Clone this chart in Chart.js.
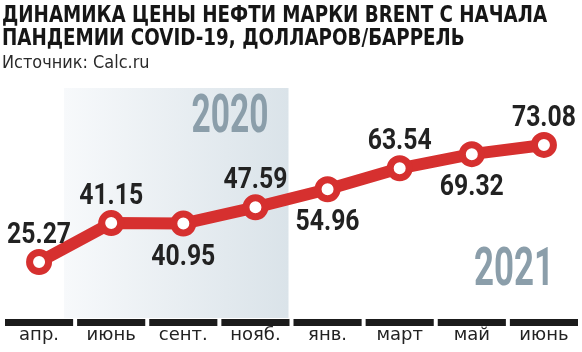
<!DOCTYPE html>
<html>
<head>
    <meta charset="utf-8">
    <title>Brent</title>
    <script src="https://cdn.jsdelivr.net/npm/chart.js@4.4.1/dist/chart.umd.min.js"></script>
    <style>
        body {
            margin: 0;
            background: #fff;
            overflow: hidden;
        }
        #wrap {
            position: relative;
            width: 582px;
            height: 352px;
        }
        #chart {
            position: absolute;
            left: 0;
            top: 0;
        }
        .title {
            position: absolute;
            left: 2px;
            font-family: "DejaVu Sans", sans-serif;
            font-weight: bold;
            font-size: 23px;
            line-height: 23px;
            color: #161616;
            white-space: nowrap;
            transform-origin: 0 0;
        }
        .source {
            position: absolute;
            left: 2px;
            font-family: "DejaVu Sans", sans-serif;
            font-size: 17px;
            line-height: 17px;
            color: #2a2a2a;
            white-space: nowrap;
            transform-origin: 0 0;
        }
    </style>
</head>
<body>
<div id="wrap">
    <canvas id="chart" width="582" height="352"></canvas>
    <div class="title" id="t1" style="top:3px" data-w="545">ДИНАМИКА ЦЕНЫ НЕФТИ МАРКИ BRENT С НАЧАЛА</div>
    <div class="title" id="t2" style="top:25.5px" data-w="463">ПАНДЕМИИ COVID-19, ДОЛЛАРОВ/БАРРЕЛЬ</div>
    <div class="source" id="src" style="top:53.5px" data-w="148">Источник: Calc.ru</div>
</div>

<script>
    // data
    const months = ['апр.', 'июнь', 'сент.', 'нояб.', 'янв.', 'март', 'май', 'июнь'];
    const prices = [25.27, 41.15, 40.95, 47.59, 54.96, 63.54, 69.32, 73.08];
    const labelSide = [-1, -1, 1, -1, 1, -1, 1, -1]; // -1 above, 1 below
    const years = ['2020', '2021'];

    const RED = '#d6302f';
    const YEAR_COLOR = '#8b9eaa';

    // squeeze html text to the width of the original
    document.querySelectorAll('[data-w]').forEach(el => {
        const w = parseFloat(el.dataset.w);
        el.style.transform = 'scaleX(' + (w / el.scrollWidth) + ')';
    });

    function squished(ctx, text, x, y, w, align) {
        const s = w / ctx.measureText(text).width;
        ctx.save();
        ctx.translate(x, y);
        ctx.scale(s, 1);
        ctx.textAlign = align;
        ctx.fillText(text, 0, 0);
        ctx.restore();
    }

    const decor = {
        id: 'decor',
        beforeDatasetsDraw(chart) {
            const ctx = chart.ctx;
            const area = chart.chartArea;
            const x = chart.scales.x;
            const p0 = x.getPixelForValue(0);
            const p1 = x.getPixelForValue(1);
            const step = p1 - p0;

            // 2020 band
            const left = p0 + 25;
            const right = (x.getPixelForValue(3) + x.getPixelForValue(4)) / 2 - 3;
            const g = ctx.createLinearGradient(left, 0, right, 0);
            g.addColorStop(0, '#f7f9fb');
            g.addColorStop(1, '#dae3e9');
            ctx.save();
            ctx.fillStyle = g;
            ctx.fillRect(left, 88, right - left, area.bottom + 1 - 88);

            // year captions
            ctx.fillStyle = YEAR_COLOR;
            ctx.font = 'bold 53px Roboto, "DejaVu Sans", sans-serif';
            ctx.textBaseline = 'alphabetic';
            squished(ctx, years[0], right - 20, 132, 77, 'right');
            squished(ctx, years[1], x.getPixelForValue(7) + 10, 285, 80, 'right');

            // black bars over the month labels
            ctx.fillStyle = '#1b1b1b';
            months.forEach((m, i) => {
                const c = x.getPixelForValue(i);
                ctx.fillRect(c - step / 2 + 2, area.bottom + 2, step - 4, 7);
            });
            ctx.restore();
        },
        afterDatasetsDraw(chart) {
            const ctx = chart.ctx;
            const meta = chart.getDatasetMeta(0);
            ctx.save();
            ctx.fillStyle = '#222';
            ctx.font = 'bold 30px Roboto, "DejaVu Sans", sans-serif';
            ctx.textBaseline = 'alphabetic';
            const s = 64 / ctx.measureText('40.95').width;
            meta.data.forEach((pt, i) => {
                const txt = prices[i].toFixed(2);
                const y = labelSide[i] < 0 ? pt.y - 19 : pt.y + 41;
                ctx.save();
                ctx.translate(pt.x, y);
                ctx.scale(s, 1);
                ctx.textAlign = 'center';
                ctx.fillText(txt, 0, 0);
                ctx.restore();
            });
            ctx.restore();
        }
    };

    new Chart(document.getElementById('chart'), {
        type: 'line',
        data: {
            labels: months,
            datasets: [{
                data: prices,
                borderColor: RED,
                borderWidth: 12,
                borderJoinStyle: 'round',
                borderCapStyle: 'round',
                tension: 0,
                pointRadius: 9.5,
                pointHoverRadius: 9.5,
                pointBorderWidth: 7,
                pointBackgroundColor: '#ffffff',
                pointBorderColor: RED
            }]
        },
        options: {
            responsive: false,
            animation: false,
            events: [],
            layout: {
                autoPadding: false,
                padding: { top: 80, left: 3, right: 2, bottom: 0 }
            },
            plugins: {
                legend: { display: false },
                tooltip: { enabled: false }
            },
            scales: {
                x: {
                    offset: true,
                    grid: { display: false, drawTicks: false },
                    border: { display: false },
                    afterFit(scale) {
                        scale.height = 35;
                    },
                    ticks: {
                        padding: 7.5,
                        color: '#222',
                        font: { family: '"DejaVu Sans", sans-serif', size: 18 },
                        maxRotation: 0,
                        autoSkip: false
                    }
                },
                y: {
                    display: false,
                    min: 2.8,
                    max: 99.6
                }
            }
        },
        plugins: [decor]
    });
</script>
</body>
</html>
